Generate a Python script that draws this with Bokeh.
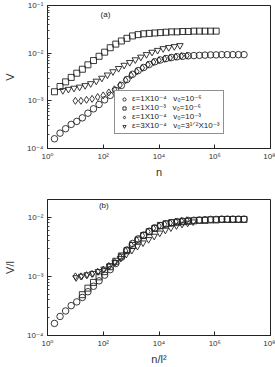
import numpy as np
from bokeh.plotting import figure
from bokeh.layouts import column
from bokeh.models import (FixedTicker, CustomJSTickFormatter, Legend, LegendItem, Label, Range1d)
from bokeh.embed import file_html
from bokeh.resources import INLINE

# ---- data ----
circ_logn = [0.25, 0.45, 0.65, 0.85, 1.05, 1.25, 1.45, 1.65, 1.85, 2.05, 2.25, 2.45, 2.65, 2.85,
             3.05, 3.25, 3.45, 3.65, 3.85, 4.05, 4.25, 4.45, 4.65, 4.85, 5.05, 5.25, 5.45, 5.65,
             5.85, 6.05, 6.25, 6.45, 6.65, 6.85, 7.05]
circ_v = [1.6e-4, 2.1e-4, 2.6e-4, 3.2e-4, 3.7e-4, 4.4e-4, 5.5e-4, 6.8e-4, 8.4e-4, 1.05e-3,
          1.3e-3, 1.65e-3, 2.1e-3, 2.8e-3, 3.6e-3, 4.3e-3, 5.0e-3, 5.8e-3, 6.6e-3, 7.2e-3,
          7.7e-3, 8.1e-3, 8.4e-3, 8.6e-3, 8.8e-3, 8.9e-3, 9.0e-3, 9.1e-3, 9.2e-3, 9.2e-3,
          9.3e-3, 9.3e-3, 9.3e-3, 9.3e-3, 9.3e-3]

sq_logn = [0.25, 0.45, 0.65, 0.85, 1.05, 1.25, 1.45, 1.65, 1.85, 2.05, 2.25, 2.45, 2.65, 2.85,
           3.05, 3.25, 3.45, 3.65, 3.85, 4.05, 4.25, 4.45, 4.65, 4.85, 5.05, 5.25, 5.45, 5.65,
           5.85, 6.05]
sq_v = [1.55e-3, 2.0e-3, 2.5e-3, 3.1e-3, 3.8e-3, 4.6e-3, 5.7e-3, 7.0e-3, 8.6e-3, 1.05e-2,
        1.3e-2, 1.55e-2, 1.8e-2, 2.05e-2, 2.3e-2, 2.45e-2, 2.55e-2, 2.6e-2, 2.65e-2, 2.7e-2,
        2.75e-2, 2.8e-2, 2.8e-2, 2.85e-2, 2.85e-2, 2.9e-2, 2.9e-2, 2.9e-2, 2.9e-2, 2.9e-2]

dia_logn = [1.0, 1.2, 1.4, 1.6, 1.8, 2.0, 2.2, 2.4, 2.6, 2.8, 3.0, 3.2, 3.4, 3.6, 3.8, 4.0,
            4.2, 4.4, 4.6, 4.8, 5.0]
dia_v = [1.0e-3, 1.0e-3, 1.05e-3, 1.1e-3, 1.2e-3, 1.3e-3, 1.5e-3, 1.75e-3, 2.15e-3, 2.7e-3,
         3.4e-3, 4.1e-3, 4.9e-3, 5.7e-3, 6.5e-3, 7.1e-3, 7.6e-3, 8.0e-3, 8.4e-3, 8.7e-3, 8.9e-3]

tri_logn = [0.55, 0.75, 0.95, 1.15, 1.35, 1.55, 1.75, 1.95, 2.15, 2.35, 2.55, 2.75, 2.95,
            3.15, 3.35, 3.55, 3.75, 3.95, 4.15, 4.35, 4.55, 4.75]
tri_v = [1.65e-3, 1.75e-3, 1.85e-3, 1.95e-3, 2.1e-3, 2.3e-3, 2.6e-3, 3.0e-3, 3.5e-3, 4.1e-3,
         4.8e-3, 5.6e-3, 6.4e-3, 7.3e-3, 8.3e-3, 9.4e-3, 1.05e-2, 1.15e-2, 1.25e-2, 1.32e-2,
         1.38e-2, 1.45e-2]

# l^2 for each series (epsilon / 1e-4)
l2_vals = [1.0, 10.0, 1.0, 3.0]

legend_labels = ["ε=1X10⁻⁴   v₀=10⁻⁶", "ε=1X10⁻³   v₀=10⁻⁶",
                 "ε=1X10⁻⁴   v₀=10⁻³", "ε=3X10⁻⁴   v₀=3¹ᐟ²X10⁻³"]
markers = ["circle", "square", "diamond", "inverted_triangle"]
msizes = [6.5, 6, 7, 6.5]

x_ticks = [1, 1e2, 1e4, 1e6, 1e8]

FONT = "Liberation Sans, DejaVu Sans"

fmt_code = """
const e = Math.round(Math.log10(tick));
const sup = {"-":"\u207b","0":"\u2070","1":"\u00b9","2":"\u00b2","3":"\u00b3","4":"\u2074","5":"\u2075","6":"\u2076","7":"\u2077","8":"\u2078","9":"\u2079"};
return "10" + String(e).split("").map(c => sup[c]).join("");
"""


def style_axes(p, yticks, yminor, xlabel, ylabel):
    p.xaxis.ticker = FixedTicker(ticks=x_ticks, minor_ticks=[])
    p.yaxis.ticker = FixedTicker(ticks=yticks, minor_ticks=yminor)
    for ax in [p.xaxis[0], p.yaxis[0]]:
        ax.formatter = CustomJSTickFormatter(code=fmt_code)
        ax.major_tick_in = 4
        ax.major_tick_out = 0
        ax.minor_tick_in = 2
        ax.minor_tick_out = 0
        ax.axis_line_color = "#222222"
        ax.major_tick_line_color = "#222222"
        ax.minor_tick_line_color = "#444444"
        ax.major_label_text_font = FONT
        ax.major_label_text_font_size = "8px"
        ax.major_label_text_color = "#333333"
        ax.axis_label_text_font = FONT
        ax.axis_label_text_font_size = "11px"
        ax.axis_label_text_font_style = "normal"
        ax.axis_label_text_color = "#333333"
    p.xaxis.axis_label = xlabel
    p.yaxis.axis_label = ylabel
    p.xaxis.major_label_standoff = 3
    p.yaxis.major_label_standoff = 4
    p.xaxis.axis_label_standoff = 2
    p.yaxis.axis_label_standoff = 8
    p.grid.visible = False
    p.outline_line_color = "#222222"
    p.outline_line_width = 1


yminor_a = [m * 10.0 ** k for k in (-4, -3, -2) for m in range(2, 10)]
yminor_b = [m * 10.0 ** k for k in (-4, -3, -2) for m in range(2, 10)]

# ---- panel (a) ----
pa = figure(width=275, height=180, x_axis_type="log", y_axis_type="log",
            x_range=Range1d(1, 1e8), y_range=Range1d(1e-4, 1e-1),
            output_backend="svg", toolbar_location=None,
            min_border_left=47, min_border_right=5, min_border_top=5, min_border_bottom=28)
style_axes(pa, [1e-4, 1e-3, 1e-2, 1e-1], yminor_a, "n", "V")

series = [(circ_logn, circ_v), (sq_logn, sq_v), (dia_logn, dia_v), (tri_logn, tri_v)]
items = []
for (ln, v), mk, ms, lab in zip(series, markers, msizes, legend_labels):
    n = [10.0 ** x for x in ln]
    r = pa.scatter(n, v, marker=mk, size=ms, fill_color=None, line_color="#222222", line_width=0.9)
    items.append(LegendItem(label=lab, renderers=[r]))

leg = Legend(items=items, location=(67, 14), orientation="vertical")
leg.label_text_font = FONT
leg.label_text_font_size = "8px"
leg.label_text_color = "#222222"
leg.label_height = 8
leg.glyph_height = 8
leg.glyph_width = 12
leg.spacing = 0
leg.padding = 3
leg.margin = 0
leg.label_standoff = 2
leg.border_line_color = "#222222"
leg.border_line_width = 1
leg.background_fill_alpha = 1
pa.add_layout(leg)

pa.add_layout(Label(x=80, y=0.065, text="(a)", text_font=FONT, text_font_size="8px",
                    text_color="#222222", text_baseline="middle"))

# ---- panel (b) ----
pb = figure(width=275, height=187, x_axis_type="log", y_axis_type="log",
            x_range=Range1d(1, 1e8), y_range=Range1d(1e-4, 10 ** -1.7),
            output_backend="svg", toolbar_location=None,
            min_border_left=47, min_border_right=5, min_border_top=19, min_border_bottom=23)
style_axes(pb, [1e-4, 1e-3, 1e-2], yminor_b, "n/l²", "V/l")

for (ln, v), mk, ms, l2 in zip(series, markers, msizes, l2_vals):
    xs = [10.0 ** x * l2 for x in ln]
    ys = [y / np.sqrt(l2) for y in v]
    pb.scatter(xs, ys, marker=mk, size=ms, fill_color=None, line_color="#222222", line_width=0.9)

pb.add_layout(Label(x=70, y=0.0155, text="(b)", text_font=FONT, text_font_size="8px",
                    text_color="#222222", text_baseline="middle"))

layout = column(pa, pb, spacing=0)
open("out.html", "w").write(file_html(layout, INLINE))
